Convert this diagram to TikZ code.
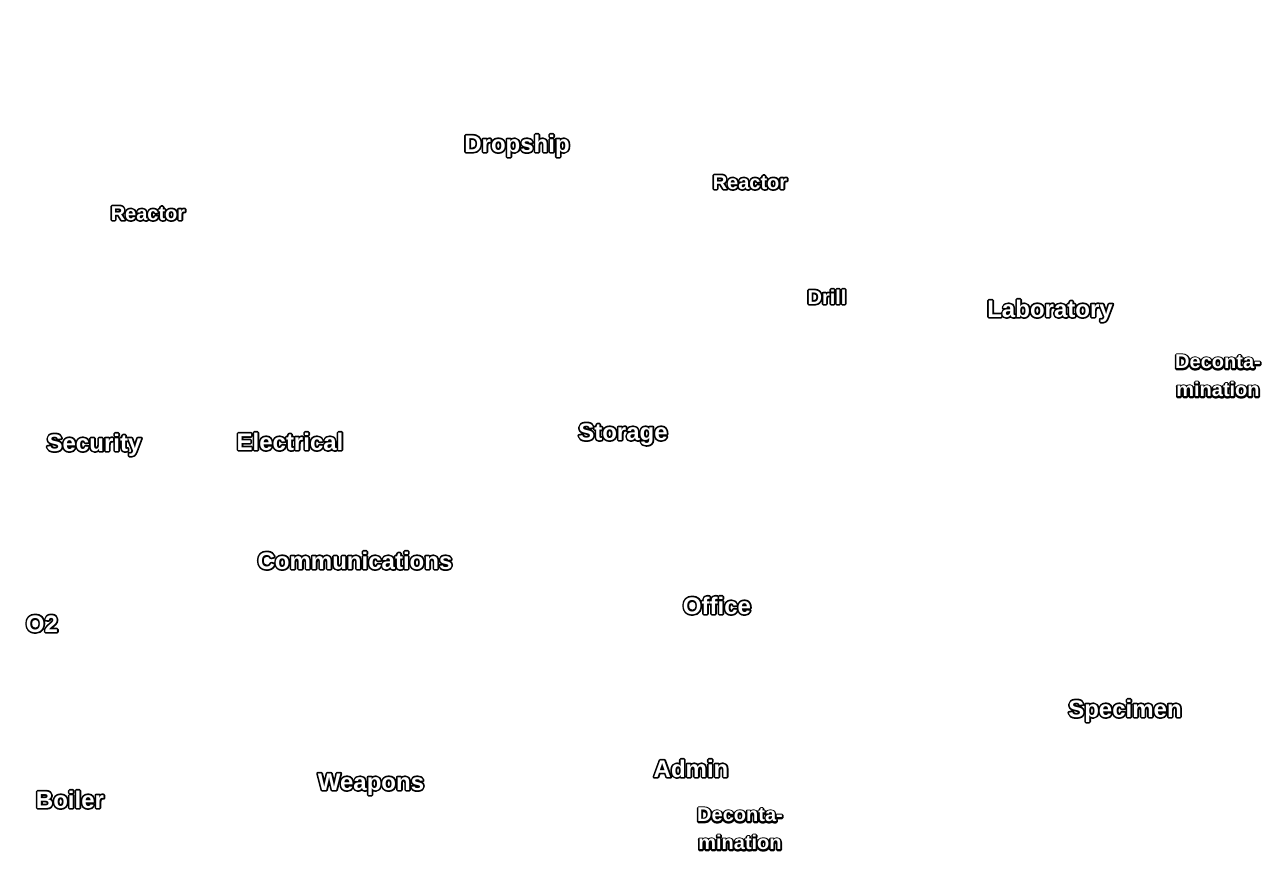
\documentclass[tikz,border=0pt]{standalone}
\usepackage{fontspec}
\setmainfont{Liberation Sans}
\newcommand{\olab}[1]{\rlap{\special{pdf:literal direct 1 Tr 3.4 w 1 j 0 0 0 RG}#1\special{pdf:literal direct 0 Tr}}\special{pdf:literal direct 0 Tr 1 1 1 rg}#1\special{pdf:literal direct 0 0 0 rg}}
\tikzset{
  room/.style={inner sep=0pt, font=\bfseries\fontsize{24}{28}\selectfont, anchor=base},
  smallroom/.style={room, font=\bfseries\fontsize{20}{28}\selectfont},
  tworow/.style={smallroom, align=center, anchor=center}
}
\begin{document}
\begin{tikzpicture}[x=1pt,y=-1pt]
\useasboundingbox[fill=white] (0,0) rectangle (1280,891);
\node[room] (dropship) at (517,152) {\olab{Dropship}};
\node[smallroom] (reactorA) at (750,189) {\olab{Reactor}};
\node[smallroom] (reactorB) at (148,220) {\olab{Reactor}};
\node[smallroom] (drill) at (827,304) {\olab{Drill}};
\node[room] (lab) at (1050,317) {\olab{Laboratory}};
\node[tworow] (deconA) at (1218,376) {\olab{Deconta-}\\\olab{mination}};
\node[room] (security) at (94,451) {\olab{Security}};
\node[room] (electrical) at (290,450) {\olab{Electrical}};
\node[room] (storage) at (623,440) {\olab{Storage}};
\node[room] (comms) at (355,569) {\olab{Communications}};
\node[room] (o2) at (42,632) {\olab{O2}};
\node[room] (office) at (717,614) {\olab{Office}};
\node[room] (specimen) at (1125,717) {\olab{Specimen}};
\node[room] (admin) at (691,777) {\olab{Admin}};
\node[room] (weapons) at (371,790) {\olab{Weapons}};
\node[room] (boiler) at (70,808) {\olab{Boiler}};
\node[tworow] (deconB) at (740,829) {\olab{Deconta-}\\\olab{mination}};
\end{tikzpicture}
\end{document}
